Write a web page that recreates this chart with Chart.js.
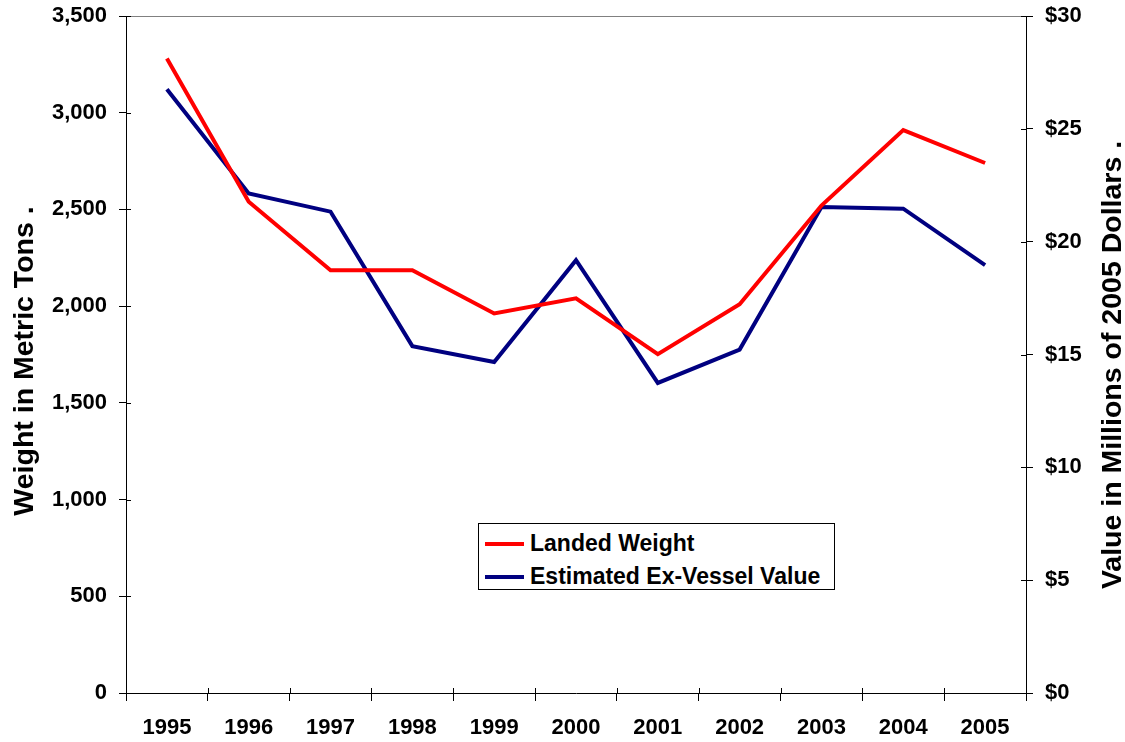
<!DOCTYPE html>
<html>
<head>
<meta charset="utf-8">
<script src="https://cdn.jsdelivr.net/npm/chart.js@4.4.1/dist/chart.umd.min.js"></script>
<style>
    body { margin: 0; background: #fff; }
    #wrap { position: relative; width: 1125px; height: 742px; }
    #legend {
        position: absolute; left: 478px; top: 523px; width: 355px; height: 65px;
        border: 1px solid #000; background: #fff;
        font: bold 23px "Liberation Sans", Arial, sans-serif; color: #000;
    }
    #legend .row { position: absolute; left: 6px; height: 26px; line-height: 26px; white-space: nowrap; }
    #legend .sw { display: inline-block; width: 39px; height: 4px; vertical-align: middle; margin-right: 6px; position: relative; top: -1px; }
</style>
</head>
<body>
<div id="wrap">
    <canvas id="chart" width="1125" height="742"></canvas>
    <div id="legend"></div>
</div>
<script>
// 연도별 어획량 / 어가 (값은 그림에서 읽음)
const YEARS = ["1995", "1996", "1997", "1998", "1999", "2000", "2001", "2002", "2003", "2004", "2005"];
const LANDED_WEIGHT = [3280, 2540, 2186, 2186, 1962, 2040, 1752, 2010, 2520, 2910, 2740];
const EX_VESSEL_VALUE = [26.75, 22.14, 21.33, 15.37, 14.67, 19.18, 13.74, 15.22, 21.54, 21.46, 18.96];

const SERIES_LABELS = ["Landed Weight", "Estimated Ex-Vessel Value"];
const SERIES_COLORS = ["#ff0000", "#000080"];
const LEFT_TITLE = "Weight in Metric Tons .";
const RIGHT_TITLE = "Value in Millions of 2005 Dollars .";

const FONT = "'Liberation Sans', Arial, sans-serif";

// ------------------------------------------------------------
// 축 안쪽 눈금 + 위쪽 회색 테두리 + 축 제목
// ------------------------------------------------------------
function drawVerticalText(ctx, text, x, y) {
    ctx.save();
    ctx.translate(x, y);
    ctx.rotate(-Math.PI / 2);
    ctx.fillText(text, 0, 0);
    ctx.restore();
}

const extrasPlugin = {
    id: "extras",
    afterDraw(chart) {
        const ctx = chart.ctx;
        const a = chart.chartArea;
        ctx.save();

        ctx.strokeStyle = "#808080";
        ctx.lineWidth = 1;
        ctx.beginPath();
        ctx.moveTo(a.left, a.top + 0.5);
        ctx.lineTo(a.right, a.top + 0.5);
        ctx.stroke();

        ctx.strokeStyle = "#000";
        ctx.beginPath();
        chart.scales.y.ticks.forEach(t => {
            const py = Math.round(chart.scales.y.getPixelForValue(t.value)) + 0.5;
            ctx.moveTo(a.left, py);
            ctx.lineTo(a.left + 5, py);
        });
        chart.scales.y1.ticks.forEach(t => {
            const py = Math.round(chart.scales.y1.getPixelForValue(t.value)) + 0.5;
            ctx.moveTo(a.right - 5, py);
            ctx.lineTo(a.right, py);
        });
        for (let i = 0; i <= YEARS.length; i++) {
            const px = Math.round(chart.scales.x.getPixelForValue(i - 0.5)) + 0.5;
            ctx.moveTo(px, a.bottom - 5);
            ctx.lineTo(px, a.bottom);
        }
        ctx.stroke();

        ctx.fillStyle = "#000";
        ctx.font = `bold 28.5px ${FONT}`;
        ctx.textAlign = "center";
        ctx.textBaseline = "middle";
        drawVerticalText(ctx, LEFT_TITLE, 25, 361);
        drawVerticalText(ctx, RIGHT_TITLE, 1113, 365);
        ctx.restore();
    },
};

const tickFont = { family: FONT, size: 22, weight: "bold" };

// 세로축 폭 고정, 위/아래 여백 없앰
function fixVertical(width) {
    return s => {
        s.width = width;
        s.paddingTop = 0;
        s.paddingBottom = 0;
    };
}

new Chart(document.getElementById("chart"), {
    type: "line",
    data: {
        labels: YEARS,
        datasets: [
            {
                label: SERIES_LABELS[0],
                data: LANDED_WEIGHT,
                borderColor: SERIES_COLORS[0],
                borderWidth: 4,
                pointRadius: 0,
                tension: 0,
                yAxisID: "y",
            },
            {
                label: SERIES_LABELS[1],
                data: EX_VESSEL_VALUE,
                borderColor: SERIES_COLORS[1],
                borderWidth: 4,
                pointRadius: 0,
                tension: 0,
                yAxisID: "y1",
            },
        ],
    },
    options: {
        responsive: false,
        animation: false,
        devicePixelRatio: 1,
        layout: { padding: { top: 16, left: 0, right: 0, bottom: 0 } },
        plugins: { legend: { display: false }, tooltip: { enabled: false } },
        scales: {
            x: {
                offset: true,
                grid: { offset: true, drawOnChartArea: false, tickLength: 8, color: "#000" },
                border: { display: true, color: "#000", width: 1 },
                ticks: { font: tickFont, color: "#000", padding: 14, maxRotation: 0 },
                afterFit(s) { s.height = 49; },
            },
            y: {
                position: "left",
                min: 0,
                max: 3500,
                grid: { drawOnChartArea: false, tickLength: 7, color: "#000" },
                border: { display: true, color: "#000", width: 1 },
                ticks: {
                    stepSize: 500,
                    font: tickFont,
                    color: "#000",
                    padding: 12,
                    callback: v => v.toLocaleString("en-US"),
                },
                afterFit: fixVertical(126),
            },
            y1: {
                position: "right",
                min: 0,
                max: 30,
                grid: { drawOnChartArea: false, tickLength: 7, color: "#000" },
                border: { display: true, color: "#000", width: 1 },
                ticks: {
                    stepSize: 5,
                    font: tickFont,
                    color: "#000",
                    padding: 12,
                    callback: v => "$" + v,
                },
                afterFit: fixVertical(99),
            },
        },
    },
    plugins: [extrasPlugin],
});

// ------------------------------------------------------------
// 범례 (HTML)
// ------------------------------------------------------------
document.getElementById("legend").innerHTML = SERIES_LABELS.map((lab, i) => `
    <div class="row" style="top:${6 + i * 33}px">
        <span class="sw" style="background:${SERIES_COLORS[i]}"></span>${lab}
    </div>`).join("");
</script>
</body>
</html>
